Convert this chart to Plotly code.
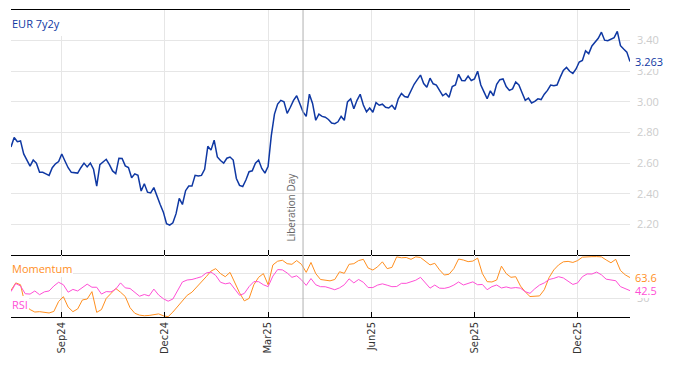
import pandas as pd
import plotly.graph_objects as go

# ---------------- data ----------------
START = "2024-07-18"
END = "2026-01-16"

# EUR 7y2y forward, sampled every 2nd business day
eur_7y2y = [
    2.706, 2.767, 2.74, 2.745, 2.66, 2.62, 2.58, 2.62, 2.60, 2.54,
    2.54, 2.53, 2.52, 2.57, 2.595, 2.61, 2.66, 2.614, 2.57, 2.54,
    2.536, 2.535, 2.57, 2.60, 2.575, 2.60, 2.56, 2.45, 2.59, 2.61,
    2.625, 2.59, 2.549, 2.531, 2.632, 2.63, 2.582, 2.571, 2.505, 2.53,
    2.52, 2.418, 2.465, 2.41, 2.405, 2.44, 2.38, 2.33, 2.28, 2.205,
    2.195, 2.21, 2.27, 2.37, 2.33, 2.42, 2.45, 2.45, 2.52, 2.516,
    2.52, 2.56, 2.71, 2.685, 2.75, 2.64, 2.617, 2.60, 2.632, 2.64,
    2.62, 2.50, 2.455, 2.447, 2.49, 2.544, 2.55, 2.60, 2.62, 2.565,
    2.535, 2.58, 2.78, 2.92, 2.986, 3.01, 3.00, 2.925, 2.965, 3.01,
    3.04, 2.99, 2.935, 2.905, 3.05, 2.99, 2.88, 2.92, 2.905, 2.90,
    2.885, 2.862, 2.858, 2.87, 2.905, 2.88, 3.00, 3.02, 2.955, 3.01,
    3.05, 2.98, 2.935, 2.96, 2.932, 2.995, 2.978, 2.985, 2.965, 2.96,
    2.978, 2.95, 3.02, 3.055, 3.035, 3.03, 3.075, 3.115, 3.145, 3.175,
    3.12, 3.095, 3.155, 3.118, 3.11, 3.07, 3.04, 3.055, 3.03, 3.10,
    3.11, 3.18, 3.14, 3.138, 3.168, 3.14, 3.15, 3.20, 3.11, 3.065,
    3.02, 3.072, 3.04, 3.115, 3.145, 3.15, 3.10, 3.075, 3.085, 3.13,
    3.11, 3.06, 3.01, 3.025, 2.993, 3.003, 3.02, 3.015, 3.05, 3.075,
    3.11, 3.105, 3.11, 3.16, 3.205, 3.225, 3.20, 3.186, 3.215, 3.26,
    3.27, 3.333, 3.315, 3.365, 3.39, 3.415, 3.455, 3.403, 3.40, 3.41,
    3.42, 3.46, 3.367, 3.345, 3.325, 3.263,
]

# Indicators, sampled every 3rd business day
momentum = [
    43, 55, 52, 19, 12, 8, 8.6, 7, 6.5, 9,
    25, 32.8, 16, 8.6, 13, 27.5, 29, 40.9, 7.5, 12,
    30, 38, 46, 40, 33, 15, 6, 3, 2, 2.5,
    4, 5, 2, 0.5, 8, 17, 27, 35, 40, 48,
    56, 65, 74, 78, 70, 65, 72, 55, 39, 26,
    30, 52, 64, 70, 52, 84, 90, 91.5, 86, 85,
    91, 85, 72, 88, 70, 60.5, 59.5, 58.3, 60.5, 73,
    70.5, 85, 86, 91, 93, 79, 75.8, 81, 89, 78,
    80, 97, 95.5, 96, 93, 97, 96, 90.5, 84, 86.6,
    76, 67.7, 69, 78, 93.5, 91.9, 89.3, 90.2, 95, 70,
    57, 56.5, 59.7, 82, 70, 64, 65, 50, 40.5, 33,
    33.5, 34, 44, 63.5, 76, 84, 89, 89.7, 88, 91,
    96.5, 97.3, 97.3, 97.4, 97, 92, 87.5, 93, 75, 68,
    63.6,
]
rsi = [
    41, 54, 50, 37.5, 37, 42, 36, 40.5, 42, 50,
    56, 52, 40, 44.5, 42, 48, 53, 48, 48, 37,
    41, 40.5, 45, 55, 47, 46, 39, 33.5, 36.3, 34,
    45, 35.5, 29.5, 25.5, 29, 43, 56.5, 59.7, 60.5, 62.7,
    65, 71, 72.5, 67, 56, 53.5, 55, 45, 35, 38,
    49, 57, 57, 52, 49, 66, 76.5, 76, 71, 64,
    66.5, 60, 51, 62, 52, 48.9, 48.8, 46.5, 44, 47,
    52, 61.5, 55, 60.5, 56, 47.5, 47.5, 51.5, 53.5, 51.3,
    48.9, 49.2, 54.3, 54.3, 56.8, 59.3, 64, 56, 46.5, 51.5,
    46.5, 46.2, 48, 51.5, 56.5, 51.6, 54.2, 56.7, 52, 52.5,
    44, 49, 51.6, 46.8, 48.5, 46.5, 47.5, 46.5, 40.8, 38.2,
    45.5, 51.5, 55, 60.5, 62.3, 65, 63, 57.5, 52.5, 55,
    65, 69.5, 69.3, 72.5, 68, 61, 59.7, 58.5, 49, 46.3,
    42.5,
]

tick_dates = ["2024-09-02", "2024-12-02", "2025-03-03", "2025-06-02", "2025-09-01", "2025-12-01"]
tick_labels = ["Sep24", "Dec24", "Mar25", "Jun25", "Sep25", "Dec25"]
price_ticks = [2.2, 2.4, 2.6, 2.8, 3.0, 3.2, 3.4]
ind_ticks = [30, 70]
ind_tick_labels = ["30", ""]
event_date = "2025-04-02"
event_label = "Liberation Day"
series_name = "EUR 7y2y"

# ---------------- figure ----------------
BLUE = "#0f38a3"
ORANGE = "#ff8f1f"
PINK = "#ff4fd6"
GRID = "#e6e6e6"
FONT = "Open Sans"

bdays = pd.bdate_range(START, END)
eur_dates = bdays[::2][:len(eur_7y2y)]
ind_dates = bdays[::3][:len(momentum)]

fig = go.Figure()
fig.add_trace(go.Scatter(x=eur_dates, y=eur_7y2y, mode="lines",
                         line=dict(color=BLUE, width=1.5), xaxis="x", yaxis="y"))
fig.add_trace(go.Scatter(x=ind_dates, y=momentum, mode="lines",
                         line=dict(color=ORANGE, width=1), xaxis="x2", yaxis="y2"))
fig.add_trace(go.Scatter(x=ind_dates, y=rsi, mode="lines",
                         line=dict(color=PINK, width=1), xaxis="x2", yaxis="y2"))

split = 62 / 307
xr = [eur_dates[0], eur_dates[-1]]
common_x = dict(
    range=xr, rangebreaks=[dict(bounds=["sat", "mon"])],
    tickmode="array", tickvals=tick_dates, ticktext=tick_labels,
    showgrid=True, gridcolor=GRID, gridwidth=1, zeroline=False,
    showline=True, linecolor="black", linewidth=1,
    ticks="inside", ticklen=5, tickcolor="black",
)

# the page body adds an 8px offset; margins compensate so the plot sits where the reference has it
fig.update_layout(
    width=674, height=366,
    margin=dict(l=3, r=52, t=2, b=57),
    paper_bgcolor="white", plot_bgcolor="white",
    showlegend=False,
    font=dict(family=FONT, size=11, color="#cccccc"),
    xaxis=dict(domain=[0, 1], anchor="y", showticklabels=False, mirror=True, **common_x),
    xaxis2=dict(domain=[0, 1], anchor="y2", matches="x", showticklabels=True, mirror=False,
                tickangle=-90, tickfont=dict(family="DejaVu Sans", size=10, color="#333333"),
                **common_x),
    yaxis=dict(domain=[split, 1], anchor="x", side="right", range=[2.0, 3.6],
               tickmode="array", tickvals=price_ticks, tickformat=".2f",
               showgrid=True, gridcolor=GRID, zeroline=False, showline=False,
               ticks="", ticklabelstandoff=6,
               tickfont=dict(family=FONT, size=11, color="#cccccc")),
    yaxis2=dict(domain=[0, split], anchor="x2", side="right", range=[0, 100],
                tickmode="array", tickvals=ind_ticks, ticktext=ind_tick_labels,
                showgrid=True, gridcolor=GRID, zeroline=False, showline=False,
                ticks="", ticklabelstandoff=6,
                tickfont=dict(family=FONT, size=11, color="#cccccc")),
)

fig.add_shape(type="line", xref="x", yref="paper", x0=event_date, x1=event_date,
              y0=0, y1=1, line=dict(color="#b0b0b0", width=1), layer="above")

anns = [
    dict(text=series_name, xref="paper", yref="paper", x=0, y=1, xanchor="left", yanchor="top",
         showarrow=False, font=dict(family=FONT, size=11, color=BLUE), bgcolor="white",
         width=49, height=24, align="left", borderpad=1, borderwidth=0),
    dict(text="Momentum", xref="paper", yref="paper", x=0, y=split, xanchor="left", yanchor="top",
         yshift=-5, showarrow=False, font=dict(family=FONT, size=11, color=ORANGE),
         bgcolor="white", borderpad=1, borderwidth=0),
    dict(text="RSI", xref="paper", yref="paper", x=0, y=0, xanchor="left", yanchor="bottom",
         yshift=4, showarrow=False, font=dict(family=FONT, size=11, color=PINK),
         bgcolor="white", borderpad=1, borderwidth=0),
    dict(text=f"{eur_7y2y[-1]:.3f}", xref="paper", yref="y", x=1, y=eur_7y2y[-1],
         xanchor="left", xshift=5, showarrow=False, font=dict(family=FONT, size=11, color=BLUE),
         bgcolor="white", borderpad=0, borderwidth=0),
    dict(text=f"{momentum[-1]:.1f}", xref="paper", yref="y2", x=1, y=momentum[-1],
         xanchor="left", xshift=5, showarrow=False, font=dict(family=FONT, size=11, color=ORANGE),
         bgcolor="white", borderpad=0, borderwidth=0),
    dict(text=f"{rsi[-1]:.1f}", xref="paper", yref="y2", x=1, y=rsi[-1],
         xanchor="left", xshift=5, showarrow=False, font=dict(family=FONT, size=11, color=PINK),
         bgcolor="white", borderpad=0, borderwidth=0),
    dict(text=event_label, xref="x", yref="paper", x=event_date, y=split, yanchor="bottom",
         xanchor="center", xshift=-13, yshift=11, textangle=-90, showarrow=False,
         font=dict(family=FONT, size=10, color="#666666")),
]
fig.update_layout(annotations=anns)

fig.write_html("out.html")
